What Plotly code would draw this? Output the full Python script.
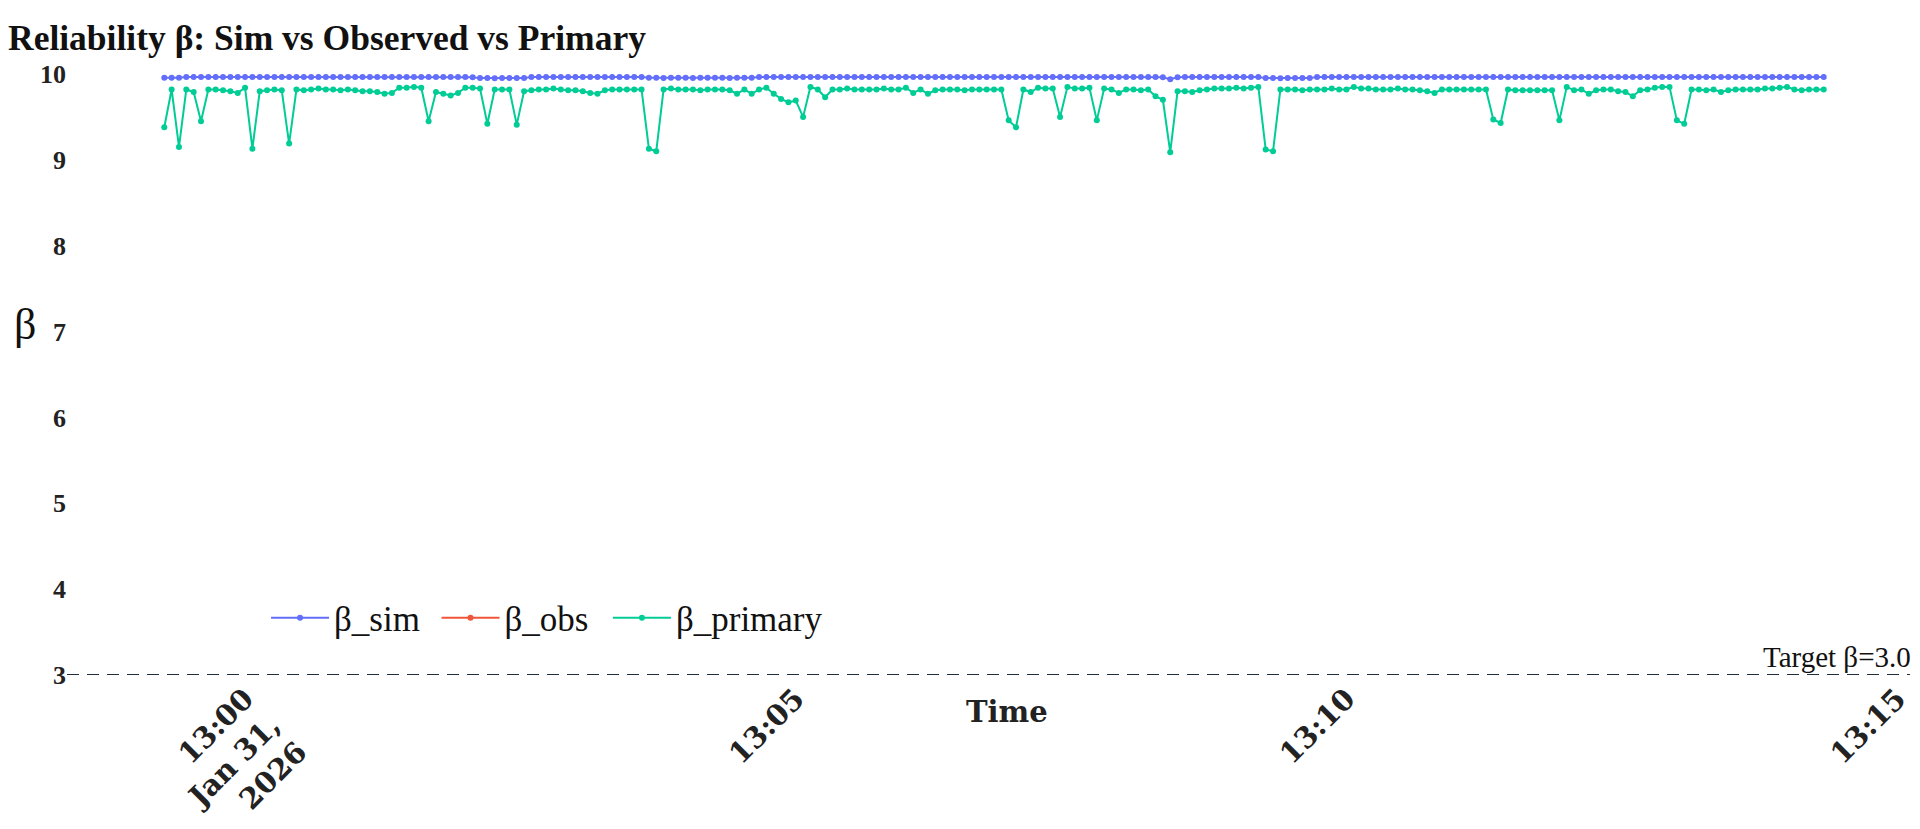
import pandas as pd
import plotly.graph_objects as go

# sample timestamps (every 4 s)
START = "2026-01-31 12:59:16"
N_POINTS = 227
times = pd.date_range(START, periods=N_POINTS, freq="4s")

beta_sim = [
    9.955, 9.955, 9.955, 9.965, 9.966, 9.964, 9.965, 9.966, 9.965, 9.964,
    9.965, 9.966, 9.965, 9.965, 9.964, 9.965, 9.966, 9.965, 9.965, 9.964,
    9.965, 9.966, 9.965, 9.965, 9.964, 9.965, 9.966, 9.965, 9.965, 9.964,
    9.965, 9.966, 9.965, 9.965, 9.964, 9.965, 9.966, 9.965, 9.965, 9.964,
    9.965, 9.964, 9.962, 9.952, 9.952, 9.951, 9.952, 9.953, 9.952, 9.952,
    9.965, 9.966, 9.965, 9.965, 9.964, 9.965, 9.966, 9.965, 9.965, 9.964,
    9.965, 9.966, 9.965, 9.965, 9.964, 9.965, 9.955, 9.955, 9.954, 9.955,
    9.956, 9.955, 9.954, 9.955, 9.955, 9.956, 9.955, 9.954, 9.955, 9.955,
    9.955, 9.965, 9.966, 9.965, 9.965, 9.964, 9.965, 9.966, 9.965, 9.965,
    9.965, 9.966, 9.965, 9.965, 9.964, 9.965, 9.966, 9.965, 9.965, 9.964,
    9.965, 9.966, 9.965, 9.965, 9.964, 9.965, 9.966, 9.965, 9.965, 9.964,
    9.965, 9.966, 9.965, 9.965, 9.964, 9.965, 9.966, 9.965, 9.965, 9.964,
    9.965, 9.966, 9.965, 9.965, 9.964, 9.965, 9.966, 9.965, 9.965, 9.964,
    9.965, 9.966, 9.965, 9.965, 9.964, 9.965, 9.962, 9.940, 9.962, 9.965,
    9.965, 9.966, 9.965, 9.965, 9.964, 9.965, 9.966, 9.965, 9.965, 9.964,
    9.952, 9.952, 9.951, 9.952, 9.953, 9.952, 9.952, 9.965, 9.966, 9.965,
    9.965, 9.966, 9.965, 9.965, 9.964, 9.965, 9.966, 9.965, 9.965, 9.964,
    9.965, 9.966, 9.965, 9.965, 9.964, 9.965, 9.966, 9.965, 9.965, 9.964,
    9.965, 9.966, 9.965, 9.965, 9.964, 9.965, 9.966, 9.965, 9.965, 9.964,
    9.965, 9.966, 9.965, 9.965, 9.964, 9.965, 9.966, 9.965, 9.965, 9.964,
    9.965, 9.966, 9.965, 9.965, 9.964, 9.965, 9.966, 9.965, 9.965, 9.964,
    9.965, 9.966, 9.965, 9.965, 9.964, 9.965, 9.966, 9.965, 9.965, 9.964,
    9.965, 9.966, 9.965, 9.965, 9.964, 9.965, 9.966,
]

# observed beta: no valid samples in this window (legend entry only)
obs_times = [START]
beta_obs = [None]

beta_primary = [
    9.38, 9.82, 9.15, 9.82, 9.79, 9.45, 9.82, 9.82, 9.81, 9.80,
    9.78, 9.84, 9.13, 9.80, 9.81, 9.82, 9.81, 9.19, 9.82, 9.81,
    9.82, 9.83, 9.82, 9.82, 9.81, 9.82, 9.81, 9.80, 9.80, 9.79,
    9.77, 9.78, 9.84, 9.84, 9.85, 9.84, 9.45, 9.79, 9.77, 9.75,
    9.78, 9.84, 9.84, 9.83, 9.42, 9.82, 9.82, 9.82, 9.41, 9.80,
    9.81, 9.82, 9.82, 9.83, 9.82, 9.81, 9.81, 9.80, 9.78, 9.77,
    9.81, 9.82, 9.82, 9.82, 9.82, 9.82, 9.13, 9.10, 9.82, 9.83,
    9.82, 9.82, 9.82, 9.81, 9.82, 9.82, 9.82, 9.81, 9.77, 9.82,
    9.77, 9.82, 9.84, 9.77, 9.71, 9.67, 9.69, 9.50, 9.85, 9.82,
    9.73, 9.82, 9.82, 9.83, 9.82, 9.82, 9.82, 9.82, 9.83, 9.82,
    9.82, 9.84, 9.78, 9.82, 9.77, 9.81, 9.82, 9.82, 9.82, 9.81,
    9.82, 9.82, 9.82, 9.82, 9.82, 9.46, 9.38, 9.82, 9.79, 9.84,
    9.83, 9.83, 9.50, 9.85, 9.83, 9.83, 9.84, 9.46, 9.83, 9.82,
    9.78, 9.82, 9.82, 9.81, 9.82, 9.74, 9.70, 9.09, 9.80, 9.80,
    9.79, 9.81, 9.82, 9.83, 9.83, 9.83, 9.84, 9.83, 9.84, 9.85,
    9.12, 9.10, 9.82, 9.82, 9.82, 9.81, 9.82, 9.82, 9.82, 9.83,
    9.82, 9.82, 9.85, 9.83, 9.83, 9.82, 9.82, 9.82, 9.83, 9.82,
    9.82, 9.81, 9.80, 9.78, 9.82, 9.82, 9.82, 9.82, 9.82, 9.82,
    9.82, 9.47, 9.43, 9.82, 9.81, 9.81, 9.81, 9.81, 9.81, 9.81,
    9.46, 9.85, 9.81, 9.82, 9.77, 9.81, 9.82, 9.82, 9.80, 9.79,
    9.74, 9.81, 9.82, 9.84, 9.85, 9.85, 9.46, 9.42, 9.82, 9.82,
    9.81, 9.82, 9.79, 9.81, 9.82, 9.82, 9.82, 9.82, 9.83, 9.83,
    9.84, 9.85, 9.82, 9.81, 9.82, 9.82, 9.82,
]

TARGET_BETA = 3.0
Y_TICKS = [3, 4, 5, 6, 7, 8, 9, 10]
X_TICKVALS = ["2026-01-31 13:00", "2026-01-31 13:05", "2026-01-31 13:10", "2026-01-31 13:15"]
X_TICKTEXT = ["13:00<br>Jan 31,<br>2026", "13:05", "13:10", "13:15"]
X_RANGE = ["2026-01-31 12:58:23", "2026-01-31 13:15:07"]

SERIF = "Liberation Serif, Times New Roman, serif"
WIDE_SERIF = "DejaVu Serif, serif"
INK = "#111"


def _legend(x):
    # one single-entry legend per trace so the entries can be spaced like the original
    return {"orientation": "h", "x": x, "y": 0.095, "xanchor": "left", "yanchor": "middle",
            "itemwidth": 58, "bgcolor": "rgba(0,0,0,0)",
            "font": {"family": SERIF, "size": 35, "color": INK}}


fig = go.Figure()
fig.add_scatter(x=times, y=beta_sim, name="β_sim", mode="lines+markers", legend="legend",
                line={"color": "#636EFA", "width": 2}, marker={"size": 6})
fig.add_scatter(x=obs_times, y=beta_obs, name="β_obs", mode="lines+markers", legend="legend2",
                line={"color": "#EF553B", "width": 2}, marker={"size": 6})
fig.add_scatter(x=times, y=beta_primary, name="β_primary", mode="lines+markers", legend="legend3",
                line={"color": "#00CC96", "width": 2}, marker={"size": 6})

fig.add_hline(y=TARGET_BETA, line_dash="12px,8px", line_color="#1f2d3d", line_width=2,
              annotation_text="Target β=3.0", annotation_position="top right",
              annotation_xshift=3,
              annotation_font={"family": SERIF, "size": 29, "color": INK})

# upright y label and the x label sit inside the tick-label band,
# which axis titles can't do, so both are annotations
fig.add_annotation(text="β", xref="paper", yref="paper", x=-0.023, y=0.583,
                   xanchor="center", yanchor="middle", showarrow=False,
                   font={"family": SERIF, "size": 44, "color": INK})
fig.add_annotation(text="<b>Time</b>", xref="paper", yref="paper", x=0.51, y=-0.062,
                   xanchor="center", yanchor="middle", showarrow=False,
                   font={"family": WIDE_SERIF, "size": 29, "color": "#222"})

fig.update_layout(
    template="plotly_white",
    width=1904,
    height=813,
    paper_bgcolor="white",
    plot_bgcolor="white",
    margin={"l": 59, "r": 2, "t": 66, "b": 146, "autoexpand": False},
    title={"text": "<b>Reliability β: Sim vs Observed vs Primary</b>",
           "x": 0, "xanchor": "left", "y": 0.964, "yanchor": "middle",
           "font": {"family": SERIF, "size": 35.5, "color": INK}},
    legend=_legend(0.108),
    legend2=_legend(0.2005),
    legend3=_legend(0.2935),
    showlegend=True,
)
fig.update_yaxes(range=[3, 10], tickvals=Y_TICKS, showgrid=False, zeroline=False,
                 showline=False, ticks="", automargin=False,
                 tickfont={"family": SERIF, "size": 26, "color": "#222", "weight": "bold"})
fig.update_xaxes(range=X_RANGE, tickvals=X_TICKVALS, ticktext=X_TICKTEXT, tickangle=-45,
                 showgrid=False, zeroline=False, showline=False, ticks="",
                 automargin=False, ticklabeloverflow="allow",
                 tickfont={"family": WIDE_SERIF, "size": 29, "color": "#222", "weight": "bold"})

fig.write_html("out.html")
